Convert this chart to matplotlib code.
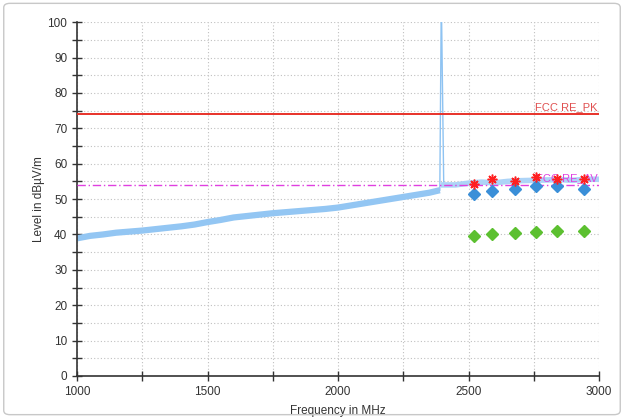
import matplotlib
matplotlib.use("Agg")
import matplotlib.pyplot as plt
from matplotlib.patches import FancyBboxPatch
from matplotlib.ticker import MultipleLocator

plt.rcParams['font.family'] = ['Liberation Sans', 'DejaVu Sans']

# 측정 트레이스 (MHz, dBuV/m)
trace_freq = [1000, 1050, 1100, 1150, 1200, 1250, 1300, 1350, 1400, 1450, 1500,
              1550, 1600, 1650, 1700, 1750, 1800, 1850, 1900, 1950, 2000,
              2050, 2100, 2150, 2200, 2250, 2300, 2350, 2390]
trace_level = [38.9, 39.6, 40.0, 40.5, 40.8, 41.1, 41.5, 41.9, 42.3, 42.8, 43.5,
               44.1, 44.8, 45.2, 45.6, 46.0, 46.3, 46.6, 46.9, 47.2, 47.6,
               48.2, 48.8, 49.4, 50.0, 50.6, 51.2, 51.8, 52.5]

# 캐리어 스파이크
spike_freq = [2390, 2395, 2397, 2405]
spike_level = [52.5, 100, 100, 54.0]

# 대역 밖 트레이스
upper_freq = [2405, 2450, 2500, 2550, 2600, 2650, 2700, 2750, 2800, 2850, 2900, 2950, 3000]
upper_level = [54.0, 54.0, 54.5, 54.8, 54.6, 55.0, 55.2, 55.3, 55.4, 55.5, 55.3, 55.6, 55.6]

# 최종 측정값
final_freq = [2521, 2590, 2678, 2759, 2838, 2943]
peak_level = [54.4, 55.8, 55.2, 56.1, 55.8, 55.6]
avg_level_hi = [51.4, 52.4, 52.8, 53.7, 53.7, 52.8]
avg_level_lo = [39.5, 40.0, 40.5, 40.8, 41.0, 41.0]

# 한계선
limit_pk = 74.0
limit_av = 54.0

fig = plt.figure(figsize=(6.24, 4.18), dpi=100)
ax = fig.add_axes([0.1234, 0.1005, 0.8366, 0.8465])

# 바깥 테두리
frame = FancyBboxPatch((0.006, 0.008), 0.988, 0.984, boxstyle="round,pad=0,rounding_size=0.01",
                       transform=fig.transFigure, fill=False, edgecolor='#c8c8c8', linewidth=1.0)
fig.patches.append(frame)

ax.plot(trace_freq, trace_level, color='#93c6f3', linewidth=4.5, solid_capstyle='butt', zorder=2)
ax.plot(spike_freq, spike_level, color='#8ec3f2', linewidth=1.0, zorder=2)
ax.plot(upper_freq, upper_level, color='#add4f7', linewidth=4.0, zorder=2)

ax.axhline(limit_pk, color='#e8322a', linewidth=1.4, zorder=3)
ax.axhline(limit_av, color='#e040e0', linewidth=1.0, linestyle=(0, (6, 2, 1, 2)), zorder=3)
ax.text(2995, limit_pk + 0.6, "FCC RE_PK", color='#e05050', fontsize=8, ha='right', va='bottom')
ax.text(2995, limit_av + 0.6, "FCC RE_AV", color='#e040e0', fontsize=8, ha='right', va='bottom')

ax.plot(final_freq, peak_level, linestyle='none', marker=(8, 2, 0), markersize=7,
        color='#ff2020', markeredgewidth=1.1, zorder=5)
ax.plot(final_freq, avg_level_hi, linestyle='none', marker='D', markersize=6.5,
        color='#3a8fd8', zorder=4)
ax.plot(final_freq, avg_level_lo, linestyle='none', marker='D', markersize=6.5,
        color='#5cc030', zorder=4)

ax.set_xlim(1000, 3000)
ax.set_ylim(0, 100)
ax.xaxis.set_major_locator(MultipleLocator(500))
ax.xaxis.set_minor_locator(MultipleLocator(250))
ax.yaxis.set_major_locator(MultipleLocator(10))
ax.yaxis.set_minor_locator(MultipleLocator(5))
ax.tick_params(which='both', direction='inout', length=7, width=1, color='#333333',
               labelsize=8.5, labelcolor='#333333')
ax.grid(which='both', color='#c0c0c0', linestyle=(0, (1, 2)), linewidth=0.8)
ax.set_axisbelow(True)

for s in ['top', 'right']:
    ax.spines[s].set_visible(False)
for s in ['left', 'bottom']:
    ax.spines[s].set_color('#333333')
    ax.spines[s].set_linewidth(1.2)

ax.set_xlabel("Frequency in MHz", fontsize=8.5, color='#333333', labelpad=5)
ax.set_ylabel("Level in dBµV/m", fontsize=8.5, color='#333333', labelpad=2)

fig.savefig("out.png", dpi=100)
